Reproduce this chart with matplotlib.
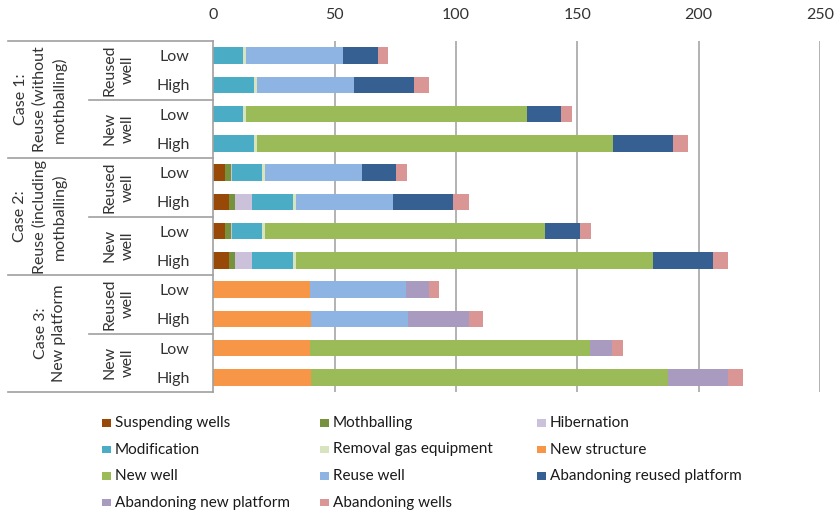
import matplotlib
matplotlib.use("Agg")
import matplotlib.pyplot as plt
import matplotlib.transforms as mtransforms
from matplotlib.patches import Rectangle
from matplotlib.lines import Line2D
import numpy as np

plt.rcParams['font.family'] = ['Lato', 'DejaVu Sans']

# ---- data (rows top to bottom) ----
row_labels = ["Low", "High"] * 6
well_labels = ["Reused\nwell", "New\nwell"] * 3
case_labels = ["Case 1:\nReuse (without\nmothballing)",
               "Case 2:\nReuse (including\nmothballing)",
               "Case 3:\nNew platform"]

series_names = ["Suspending wells", "Mothballing", "Hibernation",
                "Modification", "Removal gas equipment", "New structure",
                "New well", "Reuse well", "Abandoning reused platform",
                "Abandoning new platform", "Abandoning wells"]
colors = ["#984807", "#76923C", "#CCC1DA",
          "#4BACC6", "#D7E4BD", "#F79646",
          "#9BBB59", "#8EB4E3", "#366092",
          "#A99BBF", "#D99694"]

suspending_wells = [0, 0, 0, 0, 4.7, 6.5, 4.7, 6.5, 0, 0, 0, 0]
mothballing = [0, 0, 0, 0, 2.6, 2.6, 2.6, 2.6, 0, 0, 0, 0]
hibernation = [0, 0, 0, 0, 0.4, 6.9, 0.4, 6.9, 0, 0, 0, 0]
modification = [12.2, 16.8, 12.2, 16.8, 12.2, 16.8, 12.2, 16.8, 0, 0, 0, 0]
removal_gas = [1.4, 1.4, 1.4, 1.4, 1.4, 1.4, 1.4, 1.4, 0, 0, 0, 0]
new_structure = [0, 0, 0, 0, 0, 0, 0, 0, 39.7, 40.4, 39.7, 40.4]
new_well = [0, 0, 115.5, 146.6, 0, 0, 115.5, 146.8, 0, 0, 115.5, 147.0]
reuse_well = [39.8, 39.8, 0, 0, 39.8, 39.8, 0, 0, 39.8, 39.8, 0, 0]
aband_reused = [14.3, 24.7, 14.3, 24.8, 14.3, 24.9, 14.3, 24.8, 0, 0, 0, 0]
aband_new = [0, 0, 0, 0, 0, 0, 0, 0, 9.2, 25.3, 9.2, 24.8]
aband_wells = [4.4, 6.3, 4.4, 6.2, 4.4, 6.3, 4.4, 6.2, 4.3, 5.8, 4.4, 6.0]

series = [suspending_wells, mothballing, hibernation, modification,
          removal_gas, new_structure, new_well, reuse_well,
          aband_reused, aband_new, aband_wells]

W, H = 834, 513
fig = plt.figure(figsize=(W / 100, H / 100), dpi=100)
ax = fig.add_axes([213.3 / W, 1 - 392 / H, (820 - 213.3) / W, (392 - 41) / H])

y = np.arange(len(row_labels))
left = np.zeros(len(row_labels))
for vals, col in zip(series, colors):
    v = np.array(vals, dtype=float)
    ax.barh(y, v, left=left, height=0.56, color=col, linewidth=0)
    left += v

ax.set_xlim(0, 250)
ax.set_ylim(11.5, -0.5)
ax.set_xticks([0, 50, 100, 150, 200, 250])
ax.xaxis.tick_top()
ax.tick_params(axis='x', length=0, pad=14, labelsize=11.5, labelcolor='#333333')
ax.set_yticks(y)
ax.set_yticklabels(row_labels)
ax.tick_params(axis='y', length=0, pad=17, labelsize=11.5, labelcolor='#333333')
for s in ['top', 'right', 'bottom']:
    ax.spines[s].set_visible(False)
ax.spines['left'].set_color('#a0a0a0')
ax.spines['left'].set_linewidth(1.2)
for xv in [50, 100, 150, 200, 250]:
    ax.axvline(xv, color='#a6a6a6', lw=1.2, zorder=0)
ax.set_axisbelow(True)

# multi-level category axis
tr = mtransforms.blended_transform_factory(fig.transFigure, ax.transData)
line_kw = dict(color='#a0a0a0', lw=1.2, transform=tr, clip_on=False)
for yy, x0 in [(-0.5, 8), (1.5, 89), (3.5, 8), (5.5, 89), (7.5, 8), (9.5, 89), (11.5, 8)]:
    fig.add_artist(Line2D([x0 / W, 213.3 / W], [yy, yy], **line_kw))

for i, lab in enumerate(well_labels):
    ax.text(119 / W, 2 * i + 0.5, lab, transform=tr, rotation=90, ha='center',
            va='center', multialignment='center', fontsize=11.5, color='#333333',
            linespacing=1.4)
case_x = [40, 40, 50]
for i, lab in enumerate(case_labels):
    ax.text(case_x[i] / W, 4 * i + 1.5, lab, transform=tr, rotation=90, ha='center',
            va='center', multialignment='center', fontsize=11.5, color='#333333',
            linespacing=1.4)

# legend (3 columns, row-wise)
col_x = [102, 320, 537]
row_y = [423, 449.5, 476, 502.5]
sq_w, sq_h = 9, 7.5
for i, (name, col) in enumerate(zip(series_names, colors)):
    r, c = divmod(i, 3)
    x0 = col_x[c]
    yc = row_y[r]
    fig.add_artist(Rectangle((x0 / W, 1 - (yc + sq_h / 2) / H), sq_w / W, sq_h / H,
                             transform=fig.transFigure, color=col, lw=0))
    fig.text((x0 + 13) / W, 1 - yc / H, name, ha='left', va='center',
             fontsize=11, color='#1a1a1a')

fig.savefig("out.png", dpi=100)
